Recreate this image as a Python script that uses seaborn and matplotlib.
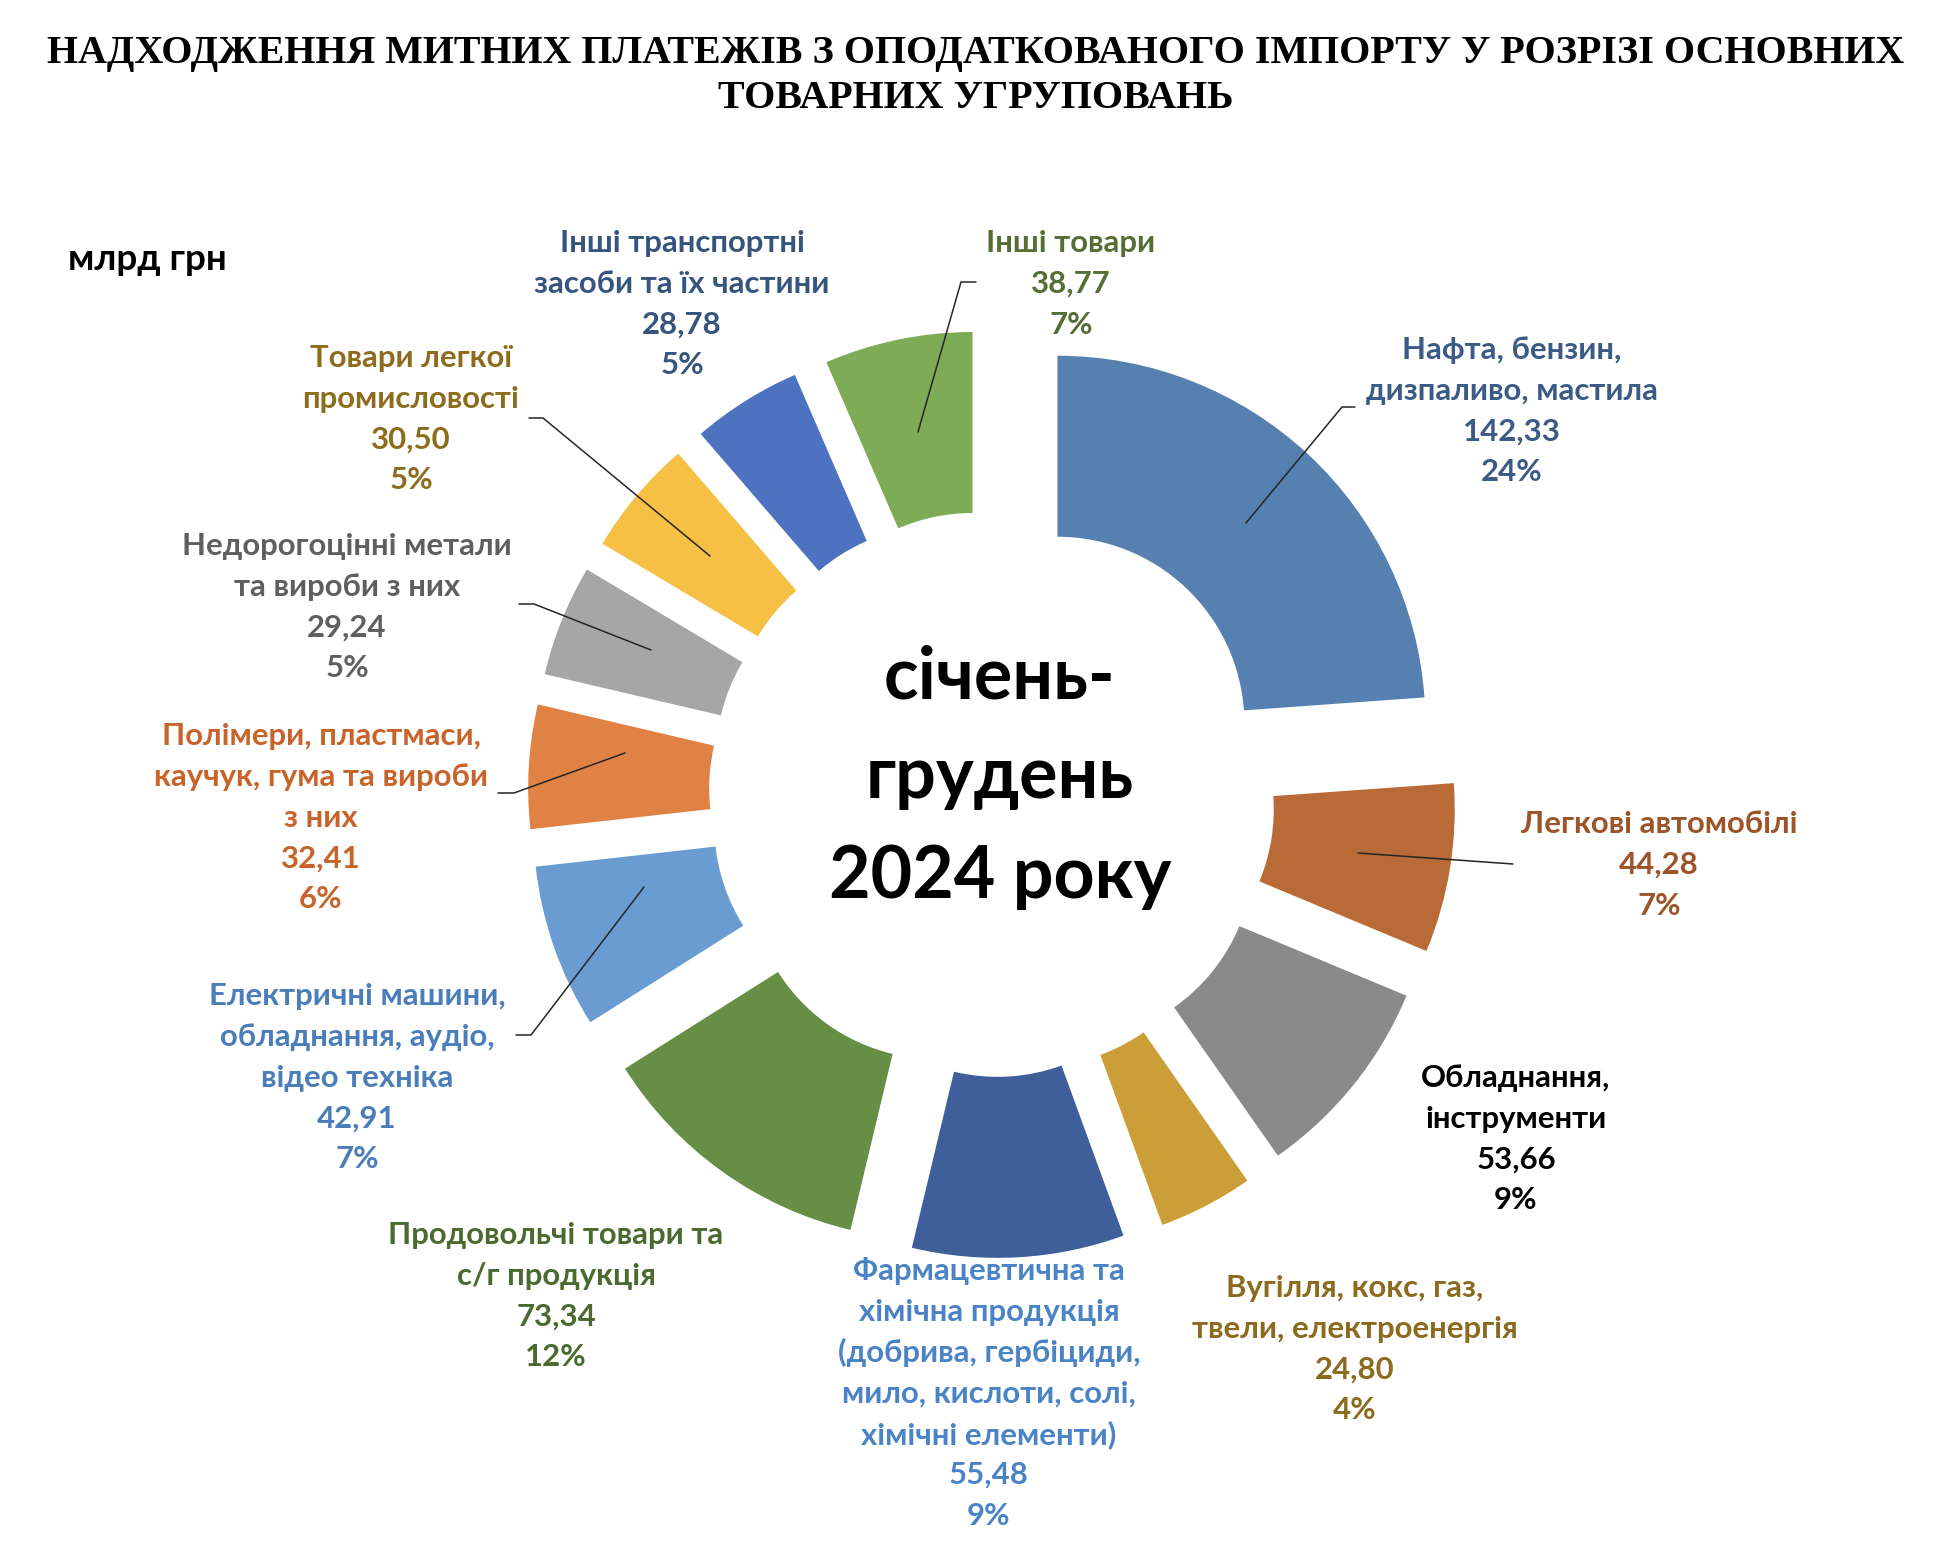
import matplotlib
matplotlib.use("Agg")
import matplotlib.pyplot as plt
import seaborn as sns

# ---------------- data ----------------
categories = [
    "Нафта, бензин,\nдизпаливо, мастила",
    "Легкові автомобілі",
    "Обладнання,\nінструменти",
    "Вугілля, кокс, газ,\nтвели, електроенергія",
    "Фармацевтична та\nхімічна продукція\n(добрива, гербіциди,\nмило, кислоти, солі,\nхімічні елементи)",
    "Продовольчі товари та\nс/г продукція",
    "Електричні машини,\nобладнання, аудіо,\nвідео техніка",
    "Полімери, пластмаси,\nкаучук, гума та вироби\nз них",
    "Недорогоцінні метали\nта вироби з них",
    "Товари легкої\nпромисловості",
    "Інші транспортні\nзасоби та їх частини",
    "Інші товари",
]
values = [142.33, 44.28, 53.66, 24.80, 55.48, 73.34, 42.91, 32.41, 29.24, 30.50, 28.78, 38.77]
percents = [24, 7, 9, 4, 9, 12, 7, 6, 5, 5, 5, 7]

slice_colors = ["#5580B0", "#B86B37", "#8A8A8A", "#CC9E37", "#3F5F9A", "#678E45",
                "#6A9BD1", "#E08244", "#A6A6A6", "#F5C044", "#4D72BF", "#7EAB55"]
label_colors = ["#3B5B86", "#9C5428", "#000000", "#8C6A1E", "#4A84C6", "#4B6A2F",
                "#4A7DBA", "#C8642A", "#5F5F5F", "#8C6D1E", "#35557F", "#546E34"]

title = "НАДХОДЖЕННЯ МИТНИХ ПЛАТЕЖІВ З ОПОДАТКОВАНОГО ІМПОРТУ У РОЗРІЗІ ОСНОВНИХ\nТОВАРНИХ УГРУПОВАНЬ"
unit_text = "млрд грн"
center_lines = ["січень-", "грудень", "2024 року"]

# ---------------- layout (pixel space, y downward) ----------------
W, H = 1937, 1555
CX, CY = 992, 794
R_OUT, RING_W, EXPLODE = 368, 181, 96
LINE_STEP = 40.8

label_pos = [(1512, 350), (1659, 824), (1516, 1078), (1355, 1288), (989, 1271), (556, 1235),
             (357, 996), (321, 736), (347, 546), (411, 358), (682, 243), (1071, 243)]

leaders = {
    0: [(1246, 523), (1342, 407), (1355, 407)],
    1: [(1358, 853), (1513, 864)],
    6: [(644, 887), (531, 1035), (516, 1035)],
    7: [(625, 753), (514, 793), (498, 793)],
    8: [(651, 650), (534, 604), (519, 604)],
    9: [(710, 556), (543, 418), (529, 418)],
    11: [(918, 432), (961, 282), (976, 282)],
}

sns.set_theme(style="white")
plt.rcParams["font.family"] = ["Lato", "DejaVu Sans"]

fig = plt.figure(figsize=(W / 100, H / 100), dpi=100)
fig.patch.set_facecolor("white")
ax = fig.add_axes([0, 0, 1, 1])


def Y(y):
    return H - y


ax.pie(values, colors=slice_colors, startangle=90, counterclock=False,
       radius=R_OUT, center=(CX, Y(CY)), explode=[EXPLODE] * len(values),
       wedgeprops=dict(width=RING_W, linewidth=0))
ax.set_xlim(0, W)
ax.set_ylim(0, H)
ax.set_aspect("equal")
ax.axis("off")

# leader lines
for idx, pts in leaders.items():
    xs = [p[0] for p in pts]
    ys = [Y(p[1]) for p in pts]
    ax.plot(xs, ys, color="#262626", lw=1.1, zorder=5)

# labels
for name, v, p, col, (lx, ly) in zip(categories, values, percents, label_colors, label_pos):
    lines = name.split("\n") + [f"{v:.2f}".replace(".", ","), f"{p}%"]
    for i, line in enumerate(lines):
        ax.text(lx, Y(ly + i * LINE_STEP), line, ha="center", va="center",
                fontsize=22.4, fontweight="bold", color=col)

# center text
for i, line in enumerate(center_lines):
    ax.text(1000, Y(678 + i * 100), line, ha="center", va="center",
            fontsize=51.7, fontweight="bold", color="black")

# unit
ax.text(68, Y(259), unit_text, ha="left", va="center", fontsize=26.5,
        fontweight="bold", color="black")

# title
fig.text(976 / W, 1 - 76 / H, title, ha="center", va="center",
         fontsize=28.8, fontweight="bold", family="Liberation Serif",
         linespacing=1.3, color="black")

fig.savefig("out.png", dpi=100, facecolor="white")
